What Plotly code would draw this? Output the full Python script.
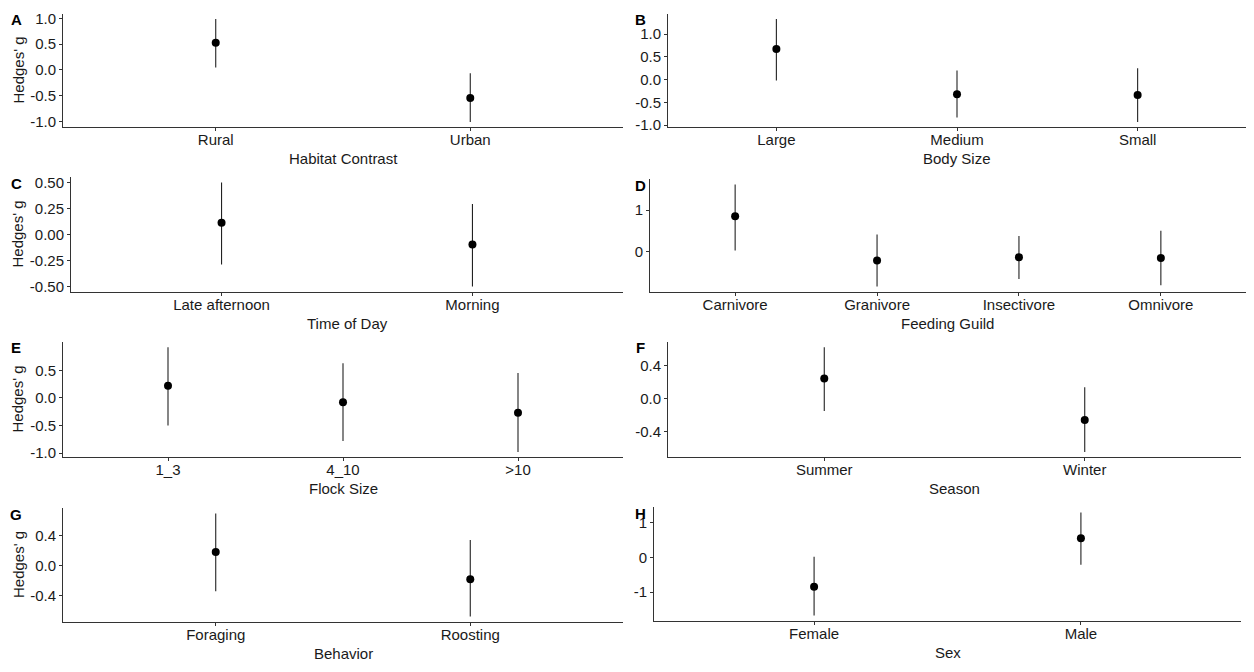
import plotly.graph_objects as go

W, H = 1254, 672

# ---------------- data ----------------
habitat_cats = ["Rural", "Urban"]
habitat_est = [0.53, -0.545]
habitat_lo = [0.05, -1.01]
habitat_hi = [0.99, -0.064]

body_cats = ["Large", "Medium", "Small"]
body_est = [0.67, -0.32, -0.34]
body_lo = [-0.02, -0.83, -0.93]
body_hi = [1.33, 0.20, 0.25]

time_cats = ["Late afternoon", "Morning"]
time_est = [0.115, -0.096]
time_lo = [-0.288, -0.50]
time_hi = [0.503, 0.295]

guild_cats = ["Carnivore", "Granivore", "Insectivore", "Omnivore"]
guild_est = [0.85, -0.22, -0.14, -0.16]
guild_lo = [0.024, -0.85, -0.67, -0.82]
guild_hi = [1.62, 0.41, 0.37, 0.50]

flock_cats = ["1_3", "4_10", ">10"]
flock_est = [0.22, -0.08, -0.27]
flock_lo = [-0.50, -0.78, -0.98]
flock_hi = [0.92, 0.63, 0.45]

season_cats = ["Summer", "Winter"]
season_est = [0.24, -0.264]
season_lo = [-0.155, -0.65]
season_hi = [0.62, 0.134]

behav_cats = ["Foraging", "Roosting"]
behav_est = [0.18, -0.18]
behav_lo = [-0.34, -0.675]
behav_hi = [0.69, 0.34]

sex_cats = ["Female", "Male"]
sex_est = [-0.845, 0.554]
sex_lo = [-1.67, -0.207]
sex_hi = [0.02, 1.29]

panels = [
    dict(letter="A", title="Habitat Contrast", cats=habitat_cats, est=habitat_est, lo=habitat_lo, hi=habitat_hi,
         ticks=[-1.0, -0.5, 0.0, 0.5, 1.0], fmt="{:.1f}", box=(63, 623, 10, 125), left=True),
    dict(letter="B", title="Body Size", cats=body_cats, est=body_est, lo=body_lo, hi=body_hi,
         ticks=[-1.0, -0.5, 0.0, 0.5, 1.0], fmt="{:.1f}", box=(668, 1246, 10, 125), left=False),
    dict(letter="C", title="Time of Day", cats=time_cats, est=time_est, lo=time_lo, hi=time_hi,
         ticks=[-0.5, -0.25, 0.0, 0.25, 0.5], fmt="{:.2f}", box=(71, 623, 176, 292), left=True),
    dict(letter="D", title="Feeding Guild", cats=guild_cats, est=guild_est, lo=guild_lo, hi=guild_hi,
         ticks=[0, 1], fmt="{:.0f}", box=(650, 1246, 178, 292), left=False),
    dict(letter="E", title="Flock Size", cats=flock_cats, est=flock_est, lo=flock_lo, hi=flock_hi,
         ticks=[-1.0, -0.5, 0.0, 0.5], fmt="{:.1f}", box=(63, 623, 343, 460), left=True),
    dict(letter="F", title="Season", cats=season_cats, est=season_est, lo=season_lo, hi=season_hi,
         ticks=[-0.4, 0.0, 0.4], fmt="{:.1f}", box=(668, 1241, 343, 460), left=False),
    dict(letter="G", title="Behavior", cats=behav_cats, est=behav_est, lo=behav_lo, hi=behav_hi,
         ticks=[-0.4, 0.0, 0.4], fmt="{:.1f}", box=(63, 623, 512, 627), left=True),
    dict(letter="H", title="Sex", cats=sex_cats, est=sex_est, lo=sex_lo, hi=sex_hi,
         ticks=[-1, 0, 1], fmt="{:.0f}", box=(654, 1241, 511, 626), left=False),
]

FONT = "Liberation Sans, Arial, sans-serif"
TXT = "#1a1a1a"
AX = "#333333"
FS = 15

fig = go.Figure()
annotations = []
layout = {}

for i, p in enumerate(panels, start=1):
    xa = "x" if i == 1 else f"x{i}"
    ya = "y" if i == 1 else f"y{i}"
    x0, x1, y0, y1 = p["box"]
    n = len(p["cats"])
    fig.add_trace(go.Scatter(
        x=p["cats"], y=p["est"], mode="markers",
        marker=dict(color="black", size=8),
        error_y=dict(type="data", symmetric=False,
                     array=[h - e for h, e in zip(p["hi"], p["est"])],
                     arrayminus=[e - l for e, l in zip(p["est"], p["lo"])],
                     width=0, thickness=1.1, color="#222222"),
        xaxis=xa, yaxis=ya, showlegend=False, hoverinfo="skip"))
    dmin, dmax = min(p["lo"]), max(p["hi"])
    pad = 0.05 * (dmax - dmin)
    layout["xaxis" if i == 1 else f"xaxis{i}"] = dict(
        domain=[x0 / W, x1 / W], anchor=ya, type="category",
        categoryorder="array", categoryarray=p["cats"],
        range=[-0.6, n - 0.4], showgrid=False, zeroline=False,
        showline=True, linecolor=AX, linewidth=1,
        ticks="outside", ticklen=3, tickcolor=AX, tickwidth=1,
        ticklabelstandoff=-4,
        tickfont=dict(family=FONT, size=FS, color=TXT), fixedrange=True)
    layout["yaxis" if i == 1 else f"yaxis{i}"] = dict(
        domain=[1 - y1 / H, 1 - y0 / H], anchor=xa,
        range=[dmin - pad, dmax + pad], showgrid=False, zeroline=False,
        showline=True, linecolor=AX, linewidth=1,
        ticks="outside", ticklen=3, tickcolor=AX, tickwidth=1,
        tickvals=p["ticks"], ticktext=[p["fmt"].format(t).replace("\u2212", "-") for t in p["ticks"]],
        tickfont=dict(family=FONT, size=FS, color=TXT), fixedrange=True)
    # x-axis title
    annotations.append(dict(text=p["title"], x=(x0 + x1) / 2 / W, y=1 - (y1 + 32) / H,
                            xref="paper", yref="paper", showarrow=False,
                            xanchor="center", yanchor="middle",
                            font=dict(family=FONT, size=FS, color=TXT)))
    # panel letter
    lx = 16 if p["left"] else 640
    annotations.append(dict(text=f"<b>{p['letter']}</b>", x=lx / W, y=1 - (y0 + 6) / H,
                            xref="paper", yref="paper", showarrow=False,
                            xanchor="center", yanchor="middle",
                            font=dict(family=FONT, size=FS, color="black")))
    if p["left"]:
        annotations.append(dict(text="Hedges' g", x=18 / W, y=1 - ((y0 + y1) / 2) / H,
                                xref="paper", yref="paper", showarrow=False, textangle=-90,
                                xanchor="center", yanchor="middle",
                                font=dict(family=FONT, size=FS, color=TXT)))

fig.update_layout(
    width=W, height=H, margin=dict(l=0, r=0, t=0, b=0),
    paper_bgcolor="white", plot_bgcolor="white",
    annotations=annotations, **layout)

fig.write_html("out.html", config={"displayModeBar": False})

# remove the default page margin so the figure fills the window exactly
with open("out.html", "r", encoding="utf-8") as f:
    html = f.read()
html = html.replace("<head>", "<head><style>html,body{margin:0;padding:0;overflow:hidden;}</style>", 1)
with open("out.html", "w", encoding="utf-8") as f:
    f.write(html)
